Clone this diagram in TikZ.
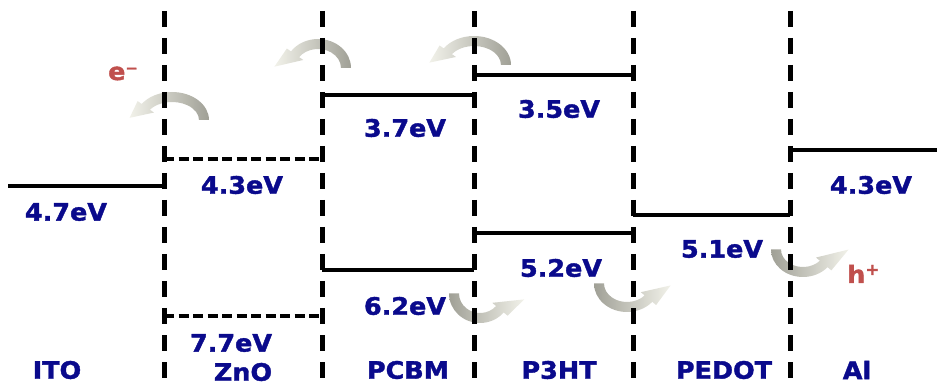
\documentclass[tikz,border=0pt]{standalone}
\usepackage{fontspec}
\newfontfamily\lblfont{DejaVu Sans}[FakeStretch=1.06,FakeBold=1.6]
\definecolor{navy}{RGB}{10,10,140}
\definecolor{ered}{RGB}{192,80,77}
\definecolor{arrD}{RGB}{160,160,150}
\definecolor{arrL}{RGB}{242,242,234}
\tikzset{
 vline/.style={line width=5pt, dash pattern=on 16pt off 11pt},
 lvl/.style={line width=4pt},
 lvldash/.style={line width=3.5pt, dash pattern=on 10pt off 4.5pt},
 lbl/.style={text=navy, font=\lblfont\bfseries\fontsize{24}{28}\selectfont, inner sep=0pt},
 carrier/.style={text=ered, font=\lblfont\bfseries\fontsize{24}{28}\selectfont, inner sep=0pt},
 topshade/.style={left color=arrL, right color=arrD},
 botshade/.style={left color=arrD, right color=arrL},
}
\newcommand\bandarrow[9]{%
 \pgfmathsetmacro\bxo{#3+5}\pgfmathsetmacro\byo{#4+5}%
 \pgfmathsetmacro\bxi{#3-5}\pgfmathsetmacro\byi{#4-5}%
 \pgfmathsetmacro\bxh{#3+10}\pgfmathsetmacro\byh{#4+10}%
 \pgfmathsetmacro\bxl{#3-10}\pgfmathsetmacro\byl{#4-10}%
 \pgfmathsetmacro\bxt{#3*#8}\pgfmathsetmacro\byt{#4*#8}%
 \pgfmathsetmacro\bat{#6+#7}%
 \begin{scope}[shift={(#1,#2)}]
 \shade[#9] (xyz polar cs:angle=#5,x radius=\bxo,y radius=\byo)
 arc[start angle=#5,end angle=#6,x radius=\bxo,y radius=\byo]
 -- (xyz polar cs:angle=#6,x radius=\bxh,y radius=\byh)
 -- (xyz polar cs:angle=\bat,x radius=\bxt,y radius=\byt)
 -- (xyz polar cs:angle=#6,x radius=\bxl,y radius=\byl)
 -- (xyz polar cs:angle=#6,x radius=\bxi,y radius=\byi)
 arc[start angle=#6,end angle=#5,x radius=\bxi,y radius=\byi]
 -- cycle;
 \end{scope}}
\begin{document}
\begin{tikzpicture}[x=1pt,y=-1pt]
\useasboundingbox (0,0) rectangle (937,387);
% curved transfer arrows
\bandarrow{172}{120}{32}{23}{0}{-145}{-31}{1.33}{topshade}
\bandarrow{318}{68}{28}{24}{0}{-145}{-33}{1.56}{topshade}
\bandarrow{474}{65}{32}{24}{0}{-145}{-31}{1.4}{topshade}
\bandarrow{480}{293.5}{26}{24.5}{180}{40}{-32}{1.72}{botshade}
\bandarrow{627}{283.5}{28}{23.5}{180}{40}{-37}{1.56}{botshade}
\bandarrow{803}{249.5}{27}{22.5}{180}{40}{-40}{1.69}{botshade}
% energy levels
\draw[lvl] (8,186) -- (164,186);
\draw[lvldash] (164,159) -- (322,159);
\draw[lvldash] (164,316) -- (322,316);
\draw[lvl] (322,95) -- (474,95);
\draw[lvl] (322,270) -- (474,270);
\draw[lvl] (474,75) -- (633,75);
\draw[lvl] (474,233) -- (633,233);
\draw[lvl] (633,215) -- (790,215);
\draw[lvl] (790,150) -- (937,150);
% interfaces
\foreach \xx in {164,322,474,633,790}
  \draw[vline] (\xx,11) -- (\xx,387);
% labels
\node[lbl] (l1) at (66,212) {4.7eV};
\node[lbl] (l2) at (242,185) {4.3eV};
\node[lbl] (l3) at (405,128) {3.7eV};
\node[lbl] (l4) at (405,306) {6.2eV};
\node[lbl] (l5) at (559,109) {3.5eV};
\node[lbl] (l6) at (561,268) {5.2eV};
\node[lbl] (l7) at (722,249) {5.1eV};
\node[lbl] (l8) at (871,185) {4.3eV};
\node[lbl] (l9) at (231,343) {7.7eV};
\node[lbl] (ito) at (57,370) {ITO};
\node[lbl] (zno) at (243,372) {ZnO};
\node[lbl] (pcbm) at (408,370) {PCBM};
\node[lbl] (p3ht) at (559,370) {P3HT};
\node[lbl] (pedot) at (724,370) {PEDOT};
\node[lbl] (al) at (857,370) {Al};
\node[carrier, anchor=base west] (el) at (108,80) {e\raisebox{7pt}{\fontsize{14}{14}\selectfont −}};
\node[carrier, anchor=base west] (ho) at (847,283) {h\raisebox{8pt}{\fontsize{16}{16}\selectfont +}};
\end{tikzpicture}
\end{document}
